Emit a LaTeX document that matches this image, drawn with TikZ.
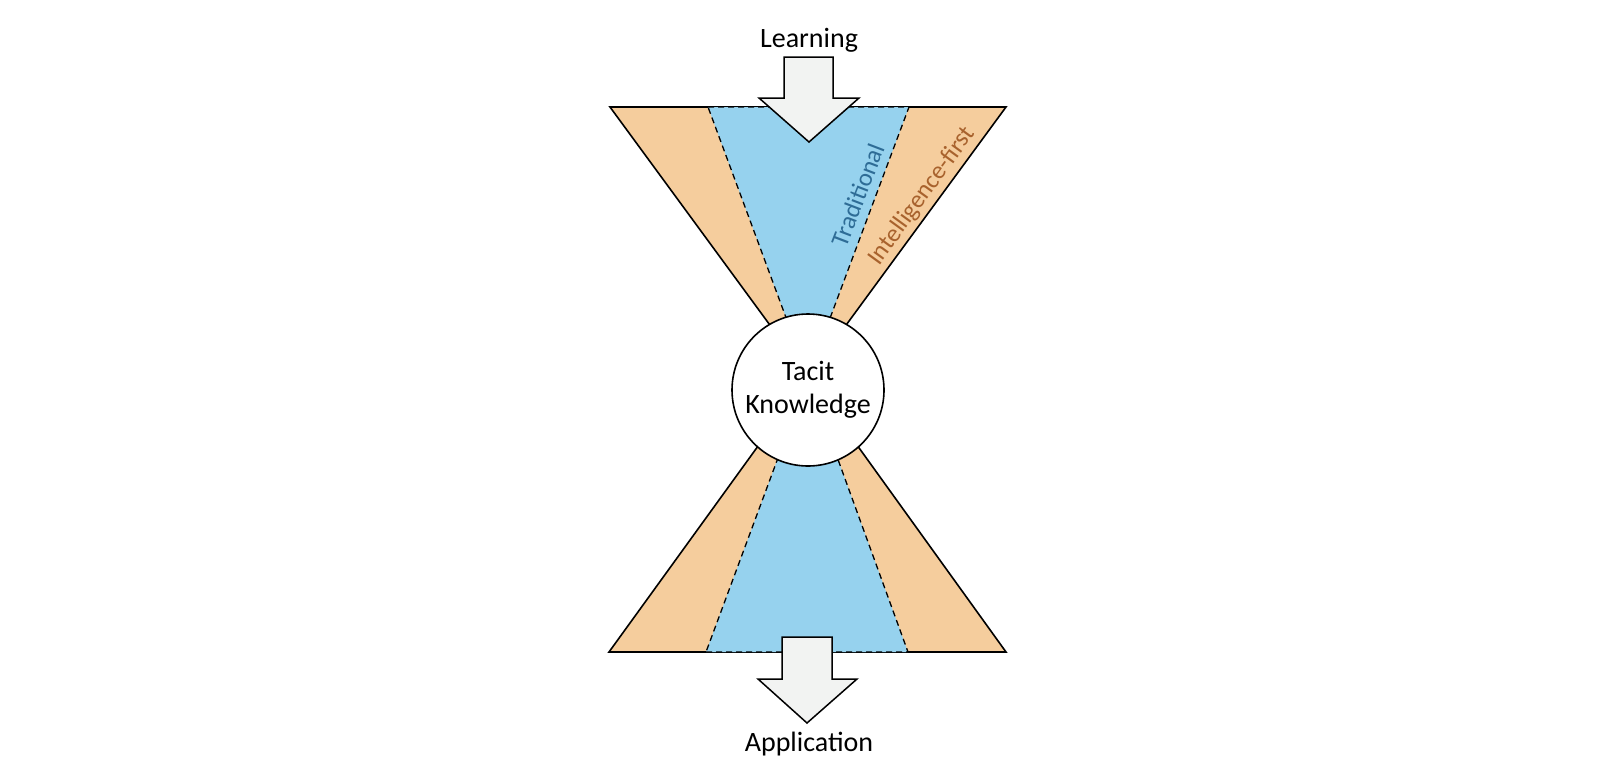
\documentclass[tikz,border=0pt]{standalone}
\usepackage{fontspec}
\setmainfont{Carlito}
\definecolor{orangefill}{RGB}{245,205,157}
\definecolor{bluefill}{RGB}{150,210,238}
\definecolor{arrowfill}{RGB}{242,243,242}
\definecolor{tradtext}{RGB}{46,108,150}
\definecolor{inteltext}{RGB}{168,98,45}
\begin{document}
\begin{tikzpicture}[x=1pt,y=-1pt,
  outerpart/.style={fill=orangefill,draw=black,line width=1.6pt,line join=miter},
  innerpart/.style={fill=bluefill,draw=black,line width=1.3pt,dash pattern=on 6pt off 4pt},
  bigarrow/.style={fill=arrowfill,draw=black,line width=1.5pt,line join=miter},
  labeltext/.style={inner sep=0pt,font=\fontsize{28}{33}\selectfont},
  sidelabel/.style={inner sep=0pt,font=\fontsize{25}{30}\selectfont}]
\useasboundingbox (0,0) rectangle (1616,777);
% top funnel
\coordinate (apex) at (808,377);
\draw[outerpart] (610,107) -- (1006,107) -- (apex) -- cycle;
\draw[innerpart] (708,107) -- (909,107) -- (apex) -- cycle;
% bottom funnel
\draw[outerpart] (609,652) -- (1006,652) -- (apex) -- cycle;
\draw[innerpart] (706,652) -- (908,652) -- (apex) -- cycle;
% arrows
\draw[bigarrow] (784,57) -- (833,57) -- (833,98) -- (859,98) -- (809,142) -- (759,98) -- (784,98) -- cycle;
\draw[bigarrow] (782,637) -- (832,637) -- (832,679) -- (857,679) -- (807,723) -- (758,679) -- (782,679) -- cycle;
% circle
\node[circle,draw=black,fill=white,line width=1.6pt,minimum size=152pt,inner sep=0pt,align=center,
      font=\fontsize{28}{33}\selectfont] (tk) at (808,390) {Tacit\\Knowledge};
% labels
\node[labeltext,anchor=base] (learn) at (809,47) {Learning};
\node[labeltext,anchor=base] (appl) at (809,751) {Application};
\node[sidelabel,text=tradtext,rotate=69] (trad) at (858,195) {Traditional};
\node[sidelabel,text=inteltext,rotate=54] (intel) at (922,196) {Intelligence-first};
\end{tikzpicture}
\end{document}
